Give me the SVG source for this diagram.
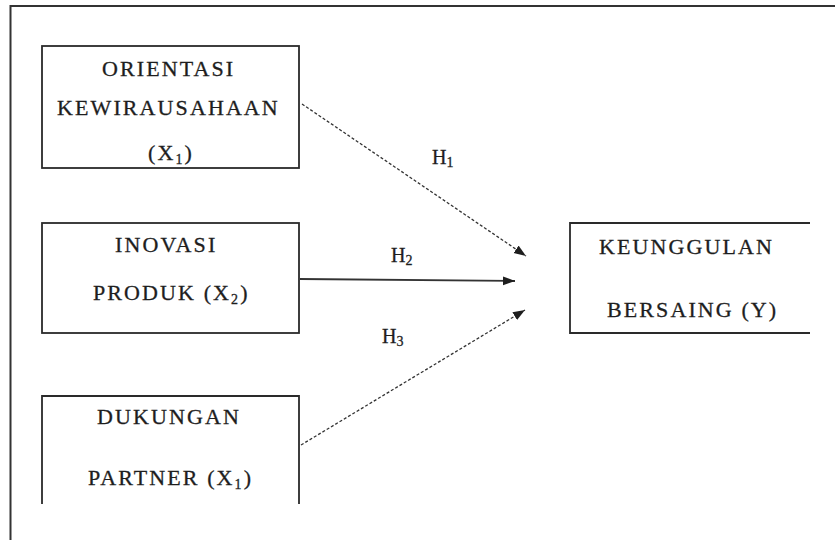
<svg xmlns="http://www.w3.org/2000/svg" width="835" height="540" viewBox="0 0 835 540">
<style>
.box{fill:none;stroke:#2a2a2a;stroke-width:1.8}
.t{font-family:"Liberation Serif","Times New Roman",serif;font-size:22px;fill:#1e1e1e;stroke:#1e1e1e;stroke-width:0.3;letter-spacing:2.1px}
.h{font-family:"Liberation Serif","Times New Roman",serif;font-size:20px;fill:#1e1e1e;stroke:#1e1e1e;stroke-width:0.3}
.sub{font-size:14px}
.dash{fill:none;stroke:#333;stroke-width:1.3;stroke-dasharray:3 2}
.solid{fill:none;stroke:#333;stroke-width:1.8}
</style>
<defs>
<marker id="arr" markerUnits="userSpaceOnUse" markerWidth="13" markerHeight="10" refX="12" refY="4.5" orient="auto">
<path d="M0,0 L12,4.5 L0,9 z" fill="#1e1e1e"/>
</marker>
</defs>
<path d="M835,6 H10.5 V540" fill="none" stroke="#333" stroke-width="2"/>
<g id="x1">
<rect class="box" x="42" y="46" width="257" height="122"/>
<text class="t" x="102" y="76">ORIENTASI</text>
<text class="t" x="57" y="115">KEWIRAUSAHAAN</text>
<text class="t" x="148" y="160">(X<tspan class="sub" dy="4">1</tspan><tspan dy="-4">)</tspan></text>
</g>
<g id="x2">
<rect class="box" x="42" y="223" width="257" height="110"/>
<text class="t" x="115" y="252">INOVASI</text>
<text class="t" x="93" y="300">PRODUK (X<tspan class="sub" dy="4">2</tspan><tspan dy="-4">)</tspan></text>
</g>
<g id="x3">
<path class="box" d="M42,504 V396 H299 V504"/>
<text class="t" x="97" y="424">DUKUNGAN</text>
<text class="t" x="88" y="485">PARTNER (X<tspan class="sub" dy="4">1</tspan><tspan dy="-4">)</tspan></text>
</g>
<g id="y">
<path class="box" d="M810,223 H570 V333 H810"/>
<text class="t" x="599" y="254">KEUNGGULAN</text>
<text class="t" x="607" y="317">BERSAING (Y)</text>
</g>
<g id="connectors">
<line class="dash" x1="302" y1="104" x2="526" y2="256" marker-end="url(#arr)"/>
<line class="solid" x1="300" y1="279" x2="515" y2="281" marker-end="url(#arr)"/>
<line class="dash" x1="301" y1="445" x2="525" y2="310" marker-end="url(#arr)"/>
<text class="h" x="432" y="164">H<tspan class="sub" dy="3">1</tspan></text>
<text class="h" x="391" y="262">H<tspan class="sub" dy="3">2</tspan></text>
<text class="h" x="382" y="343">H<tspan class="sub" dy="3">3</tspan></text>
</g>
</svg>
